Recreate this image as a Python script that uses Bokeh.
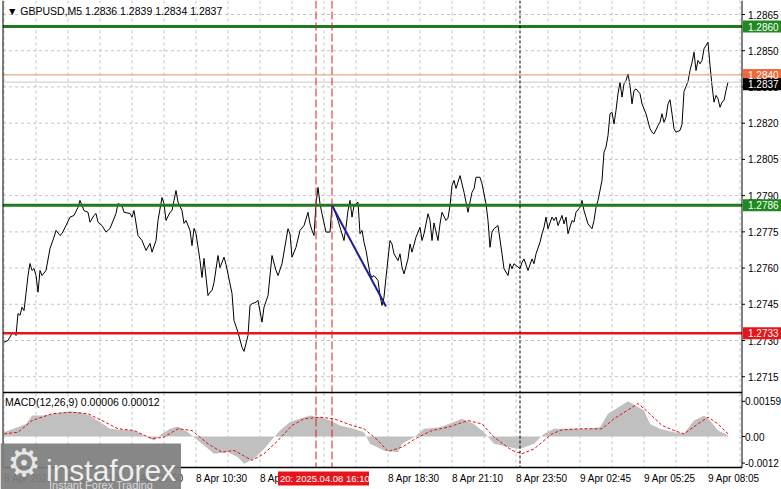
from bokeh.plotting import figure
from bokeh.models import Range1d
from bokeh.core.properties import value
from bokeh.embed import file_html
from bokeh.resources import INLINE

# ---------------- data ----------------
bar_idx = [0, 2, 4, 5, 6, 7, 8, 9, 10, 11, 12, 13, 14, 15, 16, 17, 18, 19, 21, 23, 25, 26, 28, 29, 31, 33, 35, 37, 38,
           40, 42, 43, 45, 46, 47, 49, 51, 53, 56, 57, 59, 60, 63, 64, 65, 67, 69, 71, 73, 74, 76, 77, 79, 80, 81, 83,
           84, 85, 86, 87, 89, 90, 91, 93, 94, 95, 96, 98, 99, 100, 102, 103, 104, 105, 107, 108, 110, 111, 114, 115,
           117, 119, 120, 122, 123, 124, 126, 127, 129, 130, 132, 134, 136, 137, 139, 142, 143, 144, 146, 148, 150,
           152, 153, 154, 155, 156, 157, 158, 159, 161, 163, 164, 165, 167, 168, 170, 171, 172, 173, 174, 175, 177,
           178, 179, 180, 181, 183, 184, 185, 187, 188, 189, 190, 191, 193, 194, 195, 197, 198, 199, 200, 202, 203,
           204, 206, 208, 209, 210, 212, 213, 214, 215, 217, 218, 219, 221, 222, 223, 224, 225, 226, 228, 230, 232,
           234, 235, 236, 238, 239, 241, 242, 243, 244, 245, 247, 249, 250, 252, 253, 254, 255, 256, 258, 259, 260,
           262, 264, 265, 266, 268, 269, 270, 271, 272, 274, 275, 276, 277, 279, 280, 281, 282, 284, 285, 286, 288,
           289, 290, 292, 294, 295, 296, 297, 299, 300, 301, 302, 303, 304, 305, 306, 307, 308, 309, 310, 311, 312,
           313, 314, 315, 316, 318, 319, 321, 323, 324, 325, 327, 328, 329, 330, 331, 332, 333, 334, 335, 336, 338,
           339, 340, 342, 343, 344, 345, 346, 347, 348, 349, 350, 351, 352, 353, 354, 355, 356, 357, 358, 359, 360,
           361, 362]
close = [1.27293, 1.27300, 1.27329, 1.27334, 1.27321, 1.27412, 1.27404, 1.27438, 1.27424, 1.27495, 1.27569, 1.27619,
         1.27590, 1.27598, 1.27569, 1.27500, 1.27590, 1.27569, 1.27590, 1.27681, 1.27728, 1.27756, 1.27735, 1.27743,
         1.27776, 1.27811, 1.27818, 1.27852, 1.27880, 1.27838, 1.27831, 1.27790, 1.27818, 1.27826, 1.27790, 1.27776,
         1.27749, 1.27764, 1.27826, 1.27867, 1.27859, 1.27831, 1.27826, 1.27811, 1.27838, 1.27735, 1.27714, 1.27673,
         1.27702, 1.27666, 1.27714, 1.27797, 1.27892, 1.27867, 1.27797, 1.27831, 1.27838, 1.27880, 1.27921, 1.27873,
         1.27838, 1.27785, 1.27797, 1.27756, 1.27693, 1.27764, 1.27743, 1.27631, 1.27561, 1.27640, 1.27486, 1.27500,
         1.27507, 1.27540, 1.27652, 1.27602, 1.27645, 1.27615, 1.27495, 1.27383, 1.27334, 1.27272, 1.27255, 1.27321,
         1.27445, 1.27452, 1.27459, 1.27466, 1.27376, 1.27438, 1.27486, 1.27652, 1.27590, 1.27569, 1.27618, 1.27763,
         1.27742, 1.27645, 1.27686, 1.27756, 1.27776, 1.27831, 1.27783, 1.27756, 1.27735, 1.27866, 1.27934, 1.27866,
         1.27825, 1.27749, 1.27749, 1.27859, 1.27845, 1.27797, 1.27769, 1.27714, 1.27769, 1.27838, 1.27880, 1.27811,
         1.27859, 1.27873, 1.27742, 1.27756, 1.27707, 1.27673, 1.27576, 1.27562, 1.27569, 1.27549, 1.27486, 1.27445,
         1.27479, 1.27562, 1.27714, 1.27700, 1.27659, 1.27631, 1.27659, 1.27604, 1.27576, 1.27638, 1.27700, 1.27666,
         1.27728, 1.27769, 1.27714, 1.27742, 1.27825, 1.27797, 1.27714, 1.27787, 1.27714, 1.27783, 1.27831, 1.27797,
         1.27807, 1.27859, 1.27942, 1.27963, 1.27930, 1.27983, 1.27914, 1.27831, 1.27914, 1.27928, 1.27976, 1.27976,
         1.27949, 1.27866, 1.27797, 1.27686, 1.27749, 1.27763, 1.27776, 1.27659, 1.27597, 1.27569, 1.27618, 1.27597,
         1.27618, 1.27611, 1.27597, 1.27624, 1.27638, 1.27590, 1.27638, 1.27618, 1.27659, 1.27707, 1.27742, 1.27769,
         1.27811, 1.27763, 1.27811, 1.27797, 1.27811, 1.27776, 1.27818, 1.27783, 1.27811, 1.27742, 1.27797, 1.27790,
         1.27831, 1.27852, 1.27880, 1.27838, 1.27783, 1.27763, 1.27797, 1.27852, 1.27880, 1.27963, 1.28080, 1.28101,
         1.28149, 1.28239, 1.28245, 1.28197, 1.28253, 1.28322, 1.28370, 1.28308, 1.28363, 1.28377, 1.28404, 1.28356,
         1.28280, 1.28335, 1.28342, 1.28322, 1.28280, 1.28239, 1.28177, 1.28163, 1.28156, 1.28190, 1.28204, 1.28239,
         1.28204, 1.28225, 1.28280, 1.28297, 1.28239, 1.28177, 1.28163, 1.28170, 1.28195, 1.28331, 1.28373, 1.28418,
         1.28451, 1.28494, 1.28418, 1.28460, 1.28446, 1.28460, 1.28508, 1.28522, 1.28535, 1.28439, 1.28356, 1.28287,
         1.28315, 1.28301, 1.28266, 1.28287, 1.28294, 1.28335, 1.28370]

macd_idx = [0, 11, 14, 20, 25, 32, 38, 43, 48, 53, 58, 65, 70, 75, 79, 83, 87, 92, 95, 100, 105, 112, 117, 120, 125,
            130, 135, 138, 143, 148, 153, 158, 163, 168, 175, 180, 183, 190, 197, 199, 205, 210, 218, 225, 229, 235,
            240, 245, 252, 258, 265, 270, 275, 282, 292, 298, 302, 312, 320, 323, 328, 335, 340, 345, 350, 353, 357,
            362]
macd_main = [0.00019, 0.00057, 0.00095, 0.00095, 0.00103, 0.00113, 0.00110, 0.00095, 0.00065, 0.00035, 0.00030,
             0.00027, 0.00005, -0.00018, 0.00012, 0.00035, 0.00045, 0.00019, -0.00003, -0.00041, -0.00078, -0.00071,
             -0.00094, -0.00123, -0.00101, -0.00056, -0.00003, 0.00027, 0.00065, 0.00080, 0.00095, 0.00087, 0.00072,
             0.00050, 0.00035, 0.00019, -0.00033, -0.00063, -0.00071, -0.00033, -0.00003, 0.00035, 0.00042, 0.00065,
             0.00080, 0.00057, 0.00019, -0.00033, -0.00048, -0.00056, -0.00033, 0.00012, 0.00035, 0.00035, 0.00035,
             0.00042, 0.00103, 0.00159, 0.00118, 0.00057, 0.00035, 0.00019, 0.00012, 0.00072, 0.00095, 0.00072,
             0.00027, 0.00006]
signal_idx = [0, 7, 14, 24, 34, 42, 49, 57, 65, 74, 80, 87, 94, 102, 109, 115, 124, 130, 137, 144, 150, 158, 165,
              174, 180, 187, 192, 199, 207, 214, 222, 232, 239, 245, 254, 259, 265, 274, 279, 289, 299, 305, 317, 322,
              329, 335, 340, 347, 352, 357, 362]
macd_signal = [0.00012, 0.00019, 0.00072, 0.00103, 0.00110, 0.00103, 0.00072, 0.00035, 0.00027, -0.00010, -0.00003,
               0.00035, 0.00027, -0.00033, -0.00071, -0.00063, -0.00108, -0.00078, -0.00018, 0.00050, 0.00080,
               0.00087, 0.00080, 0.00050, 0.00035, -0.00018, -0.00068, -0.00048, -0.00003, 0.00027, 0.00042, 0.00072,
               0.00057, -0.00003, -0.00063, -0.00078, -0.00056, 0.00012, 0.00030, 0.00035, 0.00035, 0.00080, 0.00149,
               0.00110, 0.00050, 0.00027, 0.00012, 0.00057, 0.00087, 0.00057, 0.00012]

trend_idx = [164, 191]
trend_price = [1.27859, 1.27441]

price_ticks = [1.2715, 1.2730, 1.2745, 1.2760, 1.2775, 1.2790, 1.2805, 1.2820, 1.2835, 1.2850, 1.2865]
macd_ticks = [0.00159, 0.0, -0.0012]
macd_tick_text = ["0.00159", "0.00", "-0.0012"]

time_bars = [0, 32, 64, 96, 128, 192, 224, 256, 288, 320, 352]
time_text = ["8 Apr 2025", "8 Apr 05:10", "8 Apr 07:50", "8 Apr 10:30", "8 Apr 13:10", "8 Apr 18:30",
             "8 Apr 21:10", "8 Apr 23:50", "9 Apr 02:45", "9 Apr 05:25", "9 Apr 08:05"]
grid_bars = list(range(0, 369, 16))

level_green = [1.2860, 1.2786]
level_red = 1.2733
level_orange = 1.2840
bid_price = 1.2837
vline_red = [156, 164]
vline_day = 258
vline_red_text = "20: 2025.04.08 16:10"

title_text = "\u25bc GBPUSD,M5  1.2836 1.2839 1.2834 1.2837"
macd_title = "MACD(12,26,9) 0.00006 0.00012"

# ---------------- layout helpers (screen geometry of the terminal window) ----------------
W, H = 781, 489
FONT = "Liberation Sans"
AXF = "10px"
PRICE_TOP = 1.28708      # price at the very top edge
PX = 0.00004141          # price per pixel
MACD_ZERO_Y = 436.0
MX = 0.0000452           # MACD units per pixel
HALF = 0.25              # half-pixel shift (in bars) so 1px vertical lines stay crisp


def bx(rx):
    return (rx - 3) / 2.0


def py(ry):
    return PRICE_TOP - PX * ry


def my(ry):
    return (MACD_ZERO_Y - ry) * MX


P_L, P_R = bx(2), bx(741)
MAIN_T, MAIN_B = 0, 391
SUB_T, SUB_B = 393, 467

p = figure(width=W, height=H, x_range=Range1d(bx(0) - HALF, bx(W) - HALF), y_range=Range1d(py(H), py(0)),
           x_axis_location=None, y_axis_location=None, output_backend="svg", toolbar_location=None,
           min_border=0, outline_line_color=None)
p.extra_y_ranges = {"macd": Range1d(my(H), my(0))}
p.background_fill_color = "white"
p.border_fill_color = "white"
p.grid.visible = False

GRID = dict(line_color="#c3c3c3", line_dash="3 3", line_width=1)

# grids
gb = [g for g in grid_bars if g < P_R]
p.segment(x0=gb, y0=[py(MAIN_T)] * len(gb), x1=gb, y1=[py(MAIN_B)] * len(gb), **GRID)
p.segment(x0=gb, y0=[my(SUB_T)] * len(gb), x1=gb, y1=[my(SUB_B)] * len(gb), y_range_name="macd", **GRID)
p.segment(x0=[P_L] * len(price_ticks), y0=price_ticks, x1=[P_R] * len(price_ticks), y1=price_ticks, **GRID)

# ---------------- main panel ----------------
p.line(bar_idx, close, line_color="black", line_width=1)
p.segment(x0=[P_L], y0=[bid_price], x1=[P_R], y1=[bid_price], line_color="#c8c8c8", line_width=1)
p.segment(x0=[P_L], y0=[level_orange], x1=[P_R], y1=[level_orange], line_color="#d8956e", line_width=1)
p.segment(x0=[P_L] * 2, y0=level_green, x1=[P_R] * 2, y1=level_green, line_color="#1e7b1e", line_width=3)
p.segment(x0=[P_L], y0=[level_red], x1=[P_R], y1=[level_red], line_color="#e8141c", line_width=2.5)
p.line(trend_idx, trend_price, line_color="#1c1c9c", line_width=2)

# ---------------- MACD panel ----------------
p.varea(x=macd_idx, y1=0, y2=macd_main, fill_color="#c0c0c0", y_range_name="macd")
p.line(signal_idx, macd_signal, line_color="#e01010", line_width=1, line_dash="3 2", y_range_name="macd")

# vertical object lines through both panels
p.segment(x0=vline_red, y0=[py(MAIN_T)] * 2, x1=vline_red, y1=[py(SUB_B)] * 2, line_color="#d42226",
          line_width=1, line_dash="8 3")
p.segment(x0=[vline_day], y0=[py(MAIN_T)], x1=[vline_day], y1=[py(SUB_B)], line_color="black",
          line_width=1, line_dash="3 2")

# frame borders
p.segment(x0=[P_L, P_R], y0=[py(MAIN_T)] * 2, x1=[P_L, P_R], y1=[py(SUB_B)] * 2, line_color="black",
          line_width=1)
p.segment(x0=[P_L, P_L], y0=[py(MAIN_B + 1), py(SUB_B)], x1=[P_R, P_R], y1=[py(MAIN_B + 1), py(SUB_B)],
          line_color="black", line_width=1.5)

# right scale: ticks and labels
p.segment(x0=[P_R] * len(price_ticks), y0=price_ticks, x1=[bx(744)] * len(price_ticks), y1=price_ticks,
          line_color="black")
p.text(x=[bx(747)] * len(price_ticks), y=price_ticks, text=[f"{t:.4f}" for t in price_ticks],
       text_font=value(FONT), text_font_size=value(AXF), text_color="black", text_baseline="middle")
p.segment(x0=[P_R] * len(macd_ticks), y0=macd_ticks, x1=[bx(744)] * len(macd_ticks), y1=macd_ticks,
          line_color="black", y_range_name="macd")
p.text(x=[bx(744)] * len(macd_ticks), y=macd_ticks, text=macd_tick_text, text_font=value(FONT),
       text_font_size=value(AXF), text_color="black", text_baseline="middle", y_range_name="macd")

# coloured price boxes on the scale
box_vals = [level_green[0], level_orange, bid_price - 0.00009, level_green[1], level_red]
box_text = ["1.2860", "1.2840", "1.2837", "1.2786", "1.2733"]
box_col = ["#1f8a1f", "#ef6a3a", "black", "#1f8a1f", "#e8141c"]
HB = PX * 6
p.quad(left=[bx(742)] * 5, right=[bx(781)] * 5, top=[v + HB for v in box_vals],
       bottom=[v - HB for v in box_vals], fill_color=box_col, line_color=None)
p.text(x=[bx(747)] * 5, y=box_vals, text=box_text, text_font=value(FONT), text_font_size=value(AXF),
       text_color="white", text_baseline="middle")

# time scale
p.text(x=time_bars, y=[my(478)] * len(time_bars), text=time_text, text_font=value(FONT),
       text_font_size=value(AXF), text_color="black", text_baseline="middle", text_align="left",
       y_range_name="macd")

# red time label of the vertical line
p.quad(left=[bx(277)], right=[bx(368)], top=[my(471)], bottom=[my(485)], fill_color="#e8141c",
       line_color=None, y_range_name="macd")
p.text(x=[bx(279)], y=[my(478)], text=[vline_red_text], text_font=value(FONT), text_font_size=value("9.5px"),
       text_color="white", text_baseline="middle", y_range_name="macd")

# titles
p.text(x=[bx(6)], y=[py(10)], text=[title_text], text_font=value(FONT), text_font_size=value("10.5px"),
       text_color="black", text_baseline="middle")
p.text(x=[bx(4)], y=[my(401)], text=[macd_title], text_font=value(FONT), text_font_size=value("10.5px"),
       text_color="black", text_baseline="middle", y_range_name="macd")

# logo
p.quad(left=[bx(0) - HALF], right=[bx(180)], top=[my(443)], bottom=[my(H)], fill_color="#7e7e7e",
       fill_alpha=0.93, line_color=None, y_range_name="macd")
p.text(x=[bx(45)], y=[my(470)], text=["instaforex"], text_font=value(FONT), text_font_size=value("30px"),
       text_color="#eeeeee", text_baseline="alphabetic", y_range_name="macd")
p.text(x=[bx(48)], y=[my(484)], text=["Instant Forex Trading"], text_font=value(FONT),
       text_font_size=value("11px"), text_color="#d8d8d8", text_baseline="alphabetic", y_range_name="macd")
p.text(x=[bx(23)], y=[my(462)], text=["\u2699"], text_font=value("DejaVu Sans"), text_font_size=value("38px"),
       text_color="#e6e6e6", text_baseline="middle", text_align="center", y_range_name="macd")

open("out.html", "w").write(file_html(p, INLINE))
